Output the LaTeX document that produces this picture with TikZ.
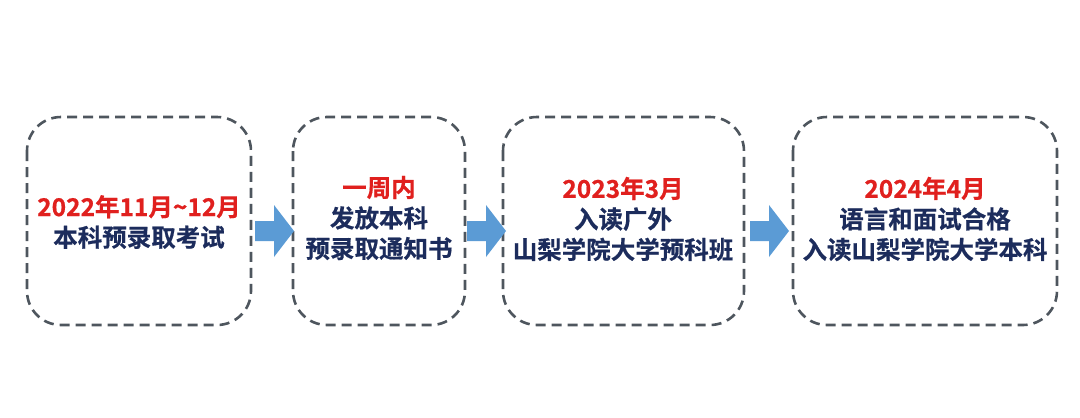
\documentclass[tikz,border=0pt]{standalone}
\usepackage{fontspec}
\setmainfont{Noto Sans CJK SC Bold}[FakeBold=0.6]
\usetikzlibrary{calc}
\definecolor{dred}{HTML}{E0201E}
\definecolor{dnavy}{HTML}{1C2C5C}
\definecolor{dgray}{HTML}{4E565E}
\definecolor{ablue}{HTML}{5B9BD5}
\begin{document}
\begin{tikzpicture}[x=1pt,y=-1pt,
  stagebox/.style={draw=dgray,line width=2.6pt,dash pattern=on 10pt off 6pt,rounded corners=34pt},
  stagetext/.style={align=center,text=dnavy,font=\fontsize{24.5}{30.5}\selectfont},
  flowarrow/.style={fill=ablue,draw=none}]
\useasboundingbox (0,0) rectangle (1080,418);
\draw[stagebox] (27,117) rectangle (251,325);
\draw[stagebox] (293,117) rectangle (465,325);
\draw[stagebox] (503,117) rectangle (744,325);
\draw[stagebox] (793,117) rectangle (1057,325);
\coordinate (b1) at (139,222);
\coordinate (b2) at (379,218);
\coordinate (b3) at (623,219);
\coordinate (b4) at (925,219);
\node[stagetext] (t1) at (b1) {{\color{dred}2022年11月\textasciitilde 12月}\\本科预录取考试};
\node[stagetext] (t2) at (b2) {{\color{dred}一周内}\\发放本科\\预录取通知书};
\node[stagetext] (t3) at (b3) {{\color{dred}2023年3月}\\入读广外\\山梨学院大学预科班};
\node[stagetext] (t4) at (b4) {{\color{dred}2024年4月}\\语言和面试合格\\入读山梨学院大学本科};
\foreach \ax in {255,467,750}{
  \fill[flowarrow] (\ax,221) -- (\ax+19,221) -- (\ax+19,205) -- (\ax+39,231) -- (\ax+19,257) -- (\ax+19,241) -- (\ax,241) -- cycle;
}
\end{tikzpicture}
\end{document}
